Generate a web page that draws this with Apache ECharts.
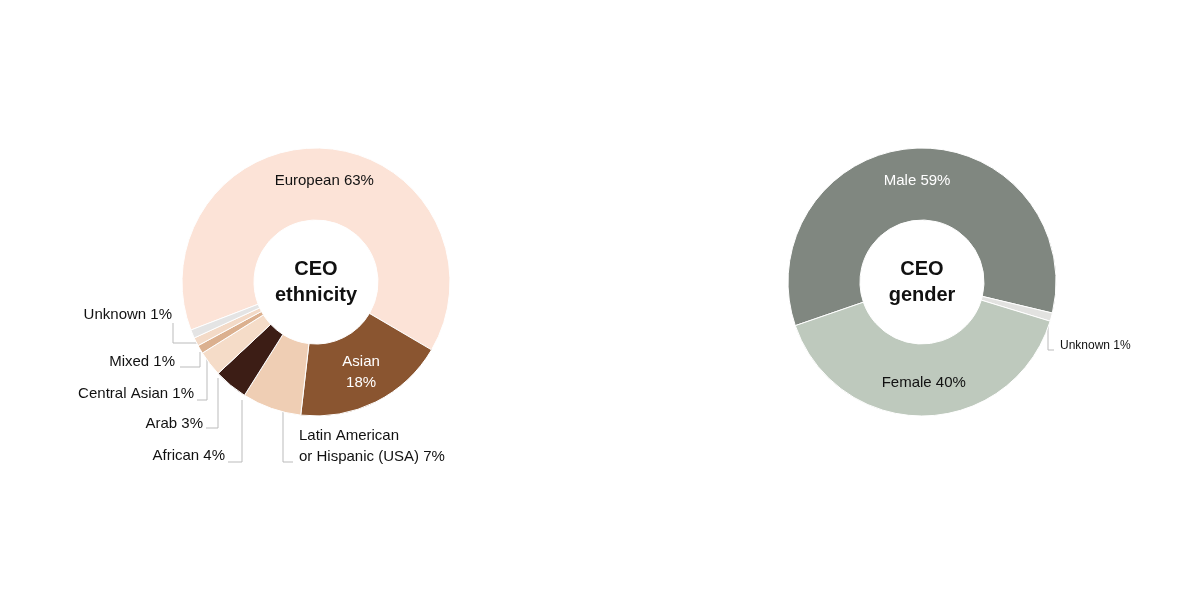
<!DOCTYPE html>
<html>
<head>
<meta charset="utf-8">
<script src="https://cdn.jsdelivr.net/npm/echarts@6/dist/echarts.min.js"></script>
<style>html,body{margin:0;padding:0;background:#fff}#main{width:1200px;height:593px}</style>
</head>
<body>
<div id="main"></div>
<script>
// CEO ethnicity (clockwise from European)
var ethNames = ['European', 'Asian', 'Latin American\nor Hispanic (USA)', 'African', 'Arab', 'Central Asian', 'Mixed', 'Unknown'];
var ethValues = [63, 18, 7, 4, 3, 1, 1, 1];
var ethColors = ['#fce3d7', '#8a5530', '#efceb4', '#3c1d15', '#f5dcc8', '#dbb08f', '#f3dac7', '#e4e4e4'];

// CEO gender
var genNames = ['Male', 'Unknown', 'Female'];
var genValues = [59, 1, 40];
var genColors = ['#808780', '#e2e2e0', '#bec9bd'];

var font = '"Liberation Sans Narrow", "Liberation Sans", sans-serif';

// label spots for the small slices, by data index: [x, y, align, line points]
var ethSpots = {
    7: [172, 315, 'right', [[197, 343], [173, 343], [173, 323]]],
    6: [175, 362, 'right', [[200, 352], [200, 367], [180, 367]]],
    5: [194, 394, 'right', [[207, 358], [207, 400], [197, 400]]],
    4: [203, 424, 'right', [[218, 378], [218, 428], [206, 428]]],
    3: [225, 456, 'right', [[242, 400], [242, 462], [228, 462]]],
    2: [299, 446, 'left', [[283, 408], [283, 462], [293, 462]]]
};
var genSpots = {
    1: [1060, 346, 'left', [[1048, 326], [1048, 350], [1054, 350]]]
};

function buildData(names, values, colors, inside) {
    return names.map(function (n, i) {
        var d = {name: n, value: values[i], itemStyle: {color: colors[i]}};
        if (inside[n]) {
            d.label = {position: 'inside', color: inside[n], fontSize: 15};
            d.labelLine = {show: false};
        }
        return d;
    });
}

function layoutFn(spots) {
    return function (p) {
        var s = spots[p.dataIndex];
        if (!s) return {};
        return {x: s[0], y: s[1], align: s[2], verticalAlign: 'middle', labelLinePoints: s[3]};
    };
}

var chart = echarts.init(document.getElementById('main'));
chart.setOption({
    backgroundColor: '#ffffff',
    animation: false,
    graphic: [
        {type: 'text', style: {text: 'CEO\nethnicity', x: 316, y: 282, align: 'center', verticalAlign: 'middle',
            font: 'bold 20px "Liberation Sans", sans-serif', lineHeight: 26, fill: '#111'}},
        {type: 'text', style: {text: 'CEO\ngender', x: 922, y: 282, align: 'center', verticalAlign: 'middle',
            font: 'bold 20px "Liberation Sans", sans-serif', lineHeight: 26, fill: '#111'}}
    ],
    series: [
        {
            type: 'pie',
            center: [316, 282],
            radius: [62, 134],
            startAngle: 201,
            itemStyle: {borderColor: '#fff', borderWidth: 1},
            label: {
                show: true, position: 'outside', fontFamily: font, fontSize: 15, color: '#111',
                formatter: function (p) { return p.name === 'Asian' ? 'Asian\n' + p.value + '%' : p.name + ' ' + p.value + '%'; },
                lineHeight: 21
            },
            labelLine: {show: true, lineStyle: {color: '#bbb', width: 1}},
            labelLayout: layoutFn(ethSpots),
            data: buildData(ethNames, ethValues, ethColors, {'European': '#111', 'Asian': '#fff'})
        },
        {
            type: 'pie',
            center: [922, 282],
            radius: [62, 134],
            startAngle: 199,
            itemStyle: {borderColor: '#fff', borderWidth: 1},
            label: {
                show: true, position: 'outside', fontFamily: font, fontSize: 12, color: '#111',
                formatter: '{b} {c}%'
            },
            labelLine: {show: true, lineStyle: {color: '#bbb', width: 1}},
            labelLayout: layoutFn(genSpots),
            data: buildData(genNames, genValues, genColors, {'Male': '#fff', 'Female': '#111'})
        }
    ]
});
</script>
</body>
</html>
